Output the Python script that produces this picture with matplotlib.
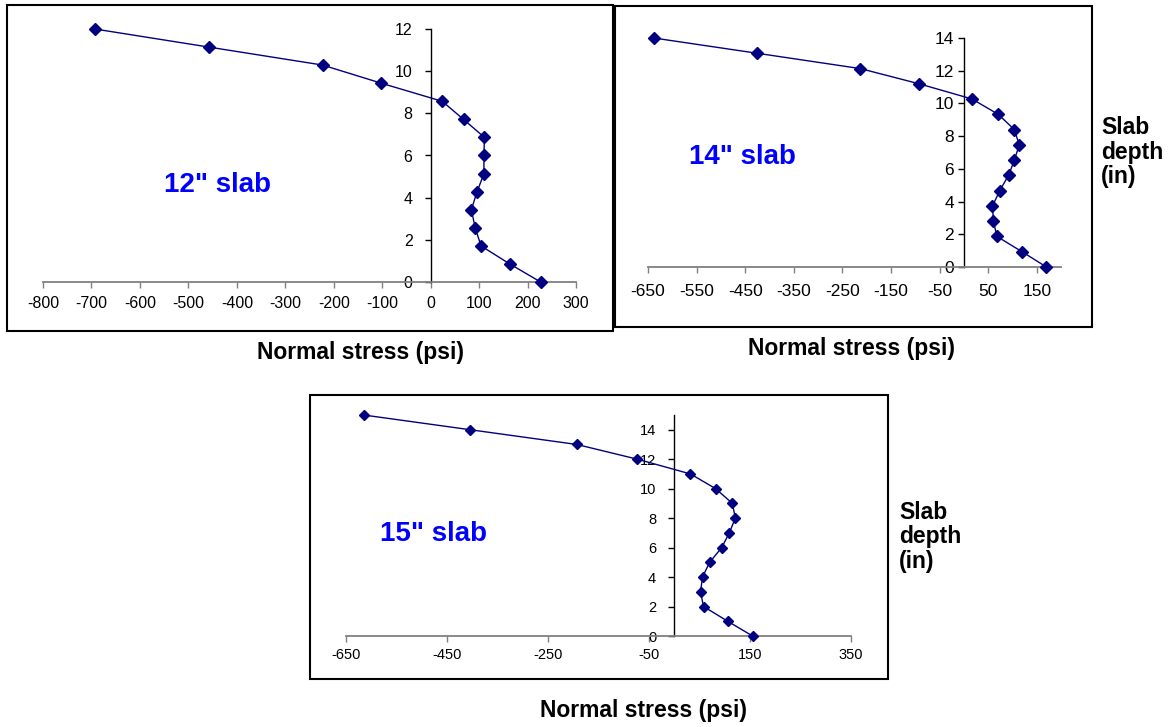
import matplotlib
matplotlib.use('Agg')
import matplotlib.pyplot as plt
from matplotlib.patches import Rectangle

plt.rcParams['font.family'] = ['Liberation Sans', 'DejaVu Sans']
plt.rcParams['axes.unicode_minus'] = False

# slab depth (in) and normal stress (psi), bottom to top
depth_12 = [0, 0.86, 1.71, 2.57, 3.43, 4.29, 5.14, 6.0, 6.86, 7.71, 8.57, 9.43, 10.29, 11.14, 12.0]
stress_12 = [227, 163, 104, 92, 84, 96, 110, 110, 111, 68, 24, -102, -223, -457, -693]

depth_14 = [0, 0.93, 1.87, 2.8, 3.73, 4.67, 5.6, 6.53, 7.47, 8.4, 9.33, 10.27, 11.2, 12.13, 13.07, 14.0]
stress_14 = [170, 120, 68, 61, 59, 74, 92, 104, 114, 104, 71, 17, -92, -213, -426, -638]

depth_15 = [0, 1, 2, 3, 4, 5, 6, 7, 8, 9, 10, 11, 12, 13, 14, 15]
stress_15 = [155, 106, 58, 52, 56, 70, 94, 109, 121, 115, 82, 32, -73, -193, -404, -615]

xticks_12 = [-800, -700, -600, -500, -400, -300, -200, -100, 0, 100, 200, 300]
yticks_12 = [0, 2, 4, 6, 8, 10, 12]
xticks_14 = [-650, -550, -450, -350, -250, -150, -50, 50, 150]
yticks_14 = [0, 2, 4, 6, 8, 10, 12, 14]
xticks_15 = [-650, -450, -250, -50, 150, 350]
yticks_15 = [0, 2, 4, 6, 8, 10, 12, 14]

W, H = 1172, 727
fig = plt.figure(figsize=(W / 100, H / 100), dpi=100)


def px_box(x0, y0, x1, y1):
    # pixel box (top-left origin) -> figure fraction rect
    return [x0 / W, 1 - y1 / H, (x1 - x0) / W, (y1 - y0) / H]


def frame(x0, y0, x1, y1):
    r = px_box(x0, y0, x1, y1)
    fig.add_artist(Rectangle((r[0], r[1]), r[2], r[3], transform=fig.transFigure,
                             fill=False, lw=1.5, ec='black'))


def text(x, y, s, **kw):
    fig.text(x / W, 1 - y / H, s, **kw)


def panel(rect, x, y, xlim, ylim, xticks, yticks, fs, xpad, ypad, ms):
    ax = fig.add_axes(px_box(*rect))
    ax.plot(x, y, color='#000080', lw=1.0, marker='D', ms=ms, mfc='#000080', mec='#000080',
            clip_on=False, zorder=5)
    ax.set_xlim(xlim)
    ax.set_ylim(ylim)
    ax.set_xticks(xticks)
    ax.set_yticks(yticks)
    ax.spines['top'].set_visible(False)
    ax.spines['right'].set_visible(False)
    ax.spines['left'].set_position(('data', 0))
    ax.spines['left'].set_linewidth(1.0)
    ax.spines['bottom'].set_color('#808080')
    ax.spines['bottom'].set_linewidth(1.3)
    ax.tick_params(axis='x', direction='out', length=4, width=1, color='#808080',
                   labelsize=fs, pad=xpad)
    ax.tick_params(axis='y', direction='out', length=4, width=1, color='black',
                   labelsize=fs, pad=ypad)
    ax.patch.set_alpha(0)
    return ax


# 12" slab
frame(7, 5, 613, 331)
panel((43, 29, 576, 282), stress_12, depth_12, (-800, 300), (0, 12), xticks_12, yticks_12,
      11.5, 6, 9, 6)
text(217, 185, '12" slab', color='#0000FF', fontsize=20, fontweight='bold', ha='center', va='center')
text(361, 352, 'Normal stress (psi)', fontsize=16.5, fontweight='bold', ha='center', va='center')

# 14" slab
frame(615, 6, 1092, 327)
panel((648, 38, 1061, 267), stress_14, depth_14, (-650, 200), (0, 14), xticks_14, yticks_14,
      12.5, 8, 3, 6)
text(742, 157, '14" slab', color='#0000FF', fontsize=20, fontweight='bold', ha='center', va='center')
text(852, 349, 'Normal stress (psi)', fontsize=16.5, fontweight='bold', ha='center', va='center')
text(1101, 152, 'Slab\ndepth\n(in)', fontsize=16.5, fontweight='bold', ha='left', va='center',
     linespacing=1.1)

# 15" slab
frame(310, 395, 888, 679)
panel((346, 415, 851, 636), stress_15, depth_15, (-650, 350), (0, 15), xticks_15, yticks_15,
      10.5, 4.5, 9, 5.5)
text(434, 534, '15" slab', color='#0000FF', fontsize=20, fontweight='bold', ha='center', va='center')
text(644, 710, 'Normal stress (psi)', fontsize=16.5, fontweight='bold', ha='center', va='center')
text(899, 537, 'Slab\ndepth\n(in)', fontsize=16.5, fontweight='bold', ha='left', va='center',
     linespacing=1.1)

fig.savefig('out.png', dpi=100)
